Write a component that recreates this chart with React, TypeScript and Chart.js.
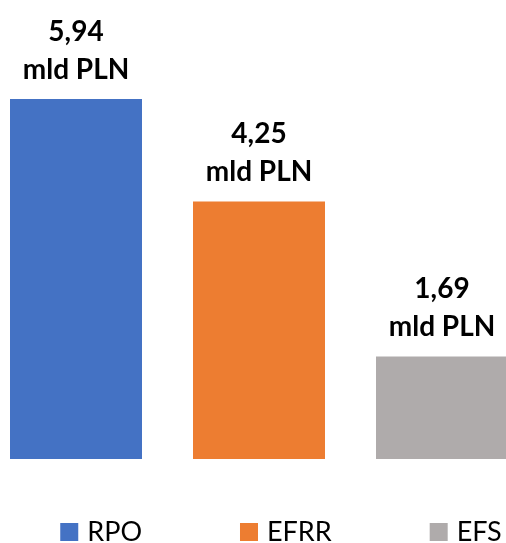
import React, { useEffect, useRef } from "react";
import { Chart, registerables } from "chart.js";

Chart.register(...registerables);

const categories: string[] = ["RPO", "EFRR", "EFS"];
const values: number[] = [5.94, 4.25, 1.69];
const valueLabels: string[] = ["5,94", "4,25", "1,69"];
const unitLabel = "mld PLN";
const colors: string[] = ["#4472C4", "#ED7D31", "#AFABAB"];

const FONT = "Lato, 'Open Sans', sans-serif";

const barLabelPlugin = {
  id: "barLabels",
  afterDatasetsDraw(chart: any) {
    const ctx = chart.ctx as CanvasRenderingContext2D;
    const meta = chart.getDatasetMeta(0);
    ctx.save();
    ctx.font = `bold 28px ${FONT}`;
    ctx.fillStyle = "#000000";
    ctx.textAlign = "center";
    ctx.textBaseline = "alphabetic";
    meta.data.forEach((bar: any, i: number) => {
      ctx.fillText(unitLabel, bar.x, bar.y - 20.5);
      ctx.fillText(valueLabels[i], bar.x, bar.y - 58.5);
    });
    ctx.restore();
  },
};

const legendPlugin = {
  id: "bottomLegend",
  afterDraw(chart: any) {
    const ctx = chart.ctx as CanvasRenderingContext2D;
    ctx.save();
    ctx.font = `27px ${FONT}`;
    const box = 18;
    const textGap = 9;
    const itemGap = 98;
    const widths = categories.map((c) => box + textGap + ctx.measureText(c).width);
    const total = widths.reduce((a, b) => a + b, 0) + itemGap * (categories.length - 1);
    let x = 281 - total / 2;
    const baseY = 541;
    categories.forEach((c, i) => {
      ctx.fillStyle = colors[i];
      ctx.fillRect(x, 523, box, box);
      ctx.fillStyle = "#000000";
      ctx.textAlign = "left";
      ctx.textBaseline = "alphabetic";
      ctx.fillText(c, x + box + textGap, baseY);
      x += widths[i] + itemGap;
    });
    ctx.restore();
  },
};

export default function App() {
  const canvasRef = useRef<HTMLCanvasElement | null>(null);

  useEffect(() => {
    if (!canvasRef.current) return;
    const chart = new Chart(canvasRef.current, {
      type: "bar",
      data: {
        labels: categories,
        datasets: [
          {
            data: values,
            backgroundColor: colors,
            borderWidth: 0,
            categoryPercentage: 1,
            barPercentage: 132 / 183,
            clip: false as any,
          },
        ],
      },
      options: {
        animation: false,
        responsive: true,
        maintainAspectRatio: false,
        layout: {
          padding: { left: 76, right: 64, top: 95.4, bottom: 84 },
        },
        plugins: {
          legend: { display: false },
          tooltip: { enabled: false },
        },
        scales: {
          x: {
            type: "category",
            offset: false,
            display: false,
          },
          y: {
            min: 0,
            max: 6,
            display: false,
          },
        },
      },
      plugins: [barLabelPlugin, legendPlugin],
    });
    return () => chart.destroy();
  }, []);

  return (
    <div style={{ position: "absolute", left: 0, top: 0, width: 506, height: 543, background: "#ffffff" }}>
      <canvas ref={canvasRef} />
    </div>
  );
}
